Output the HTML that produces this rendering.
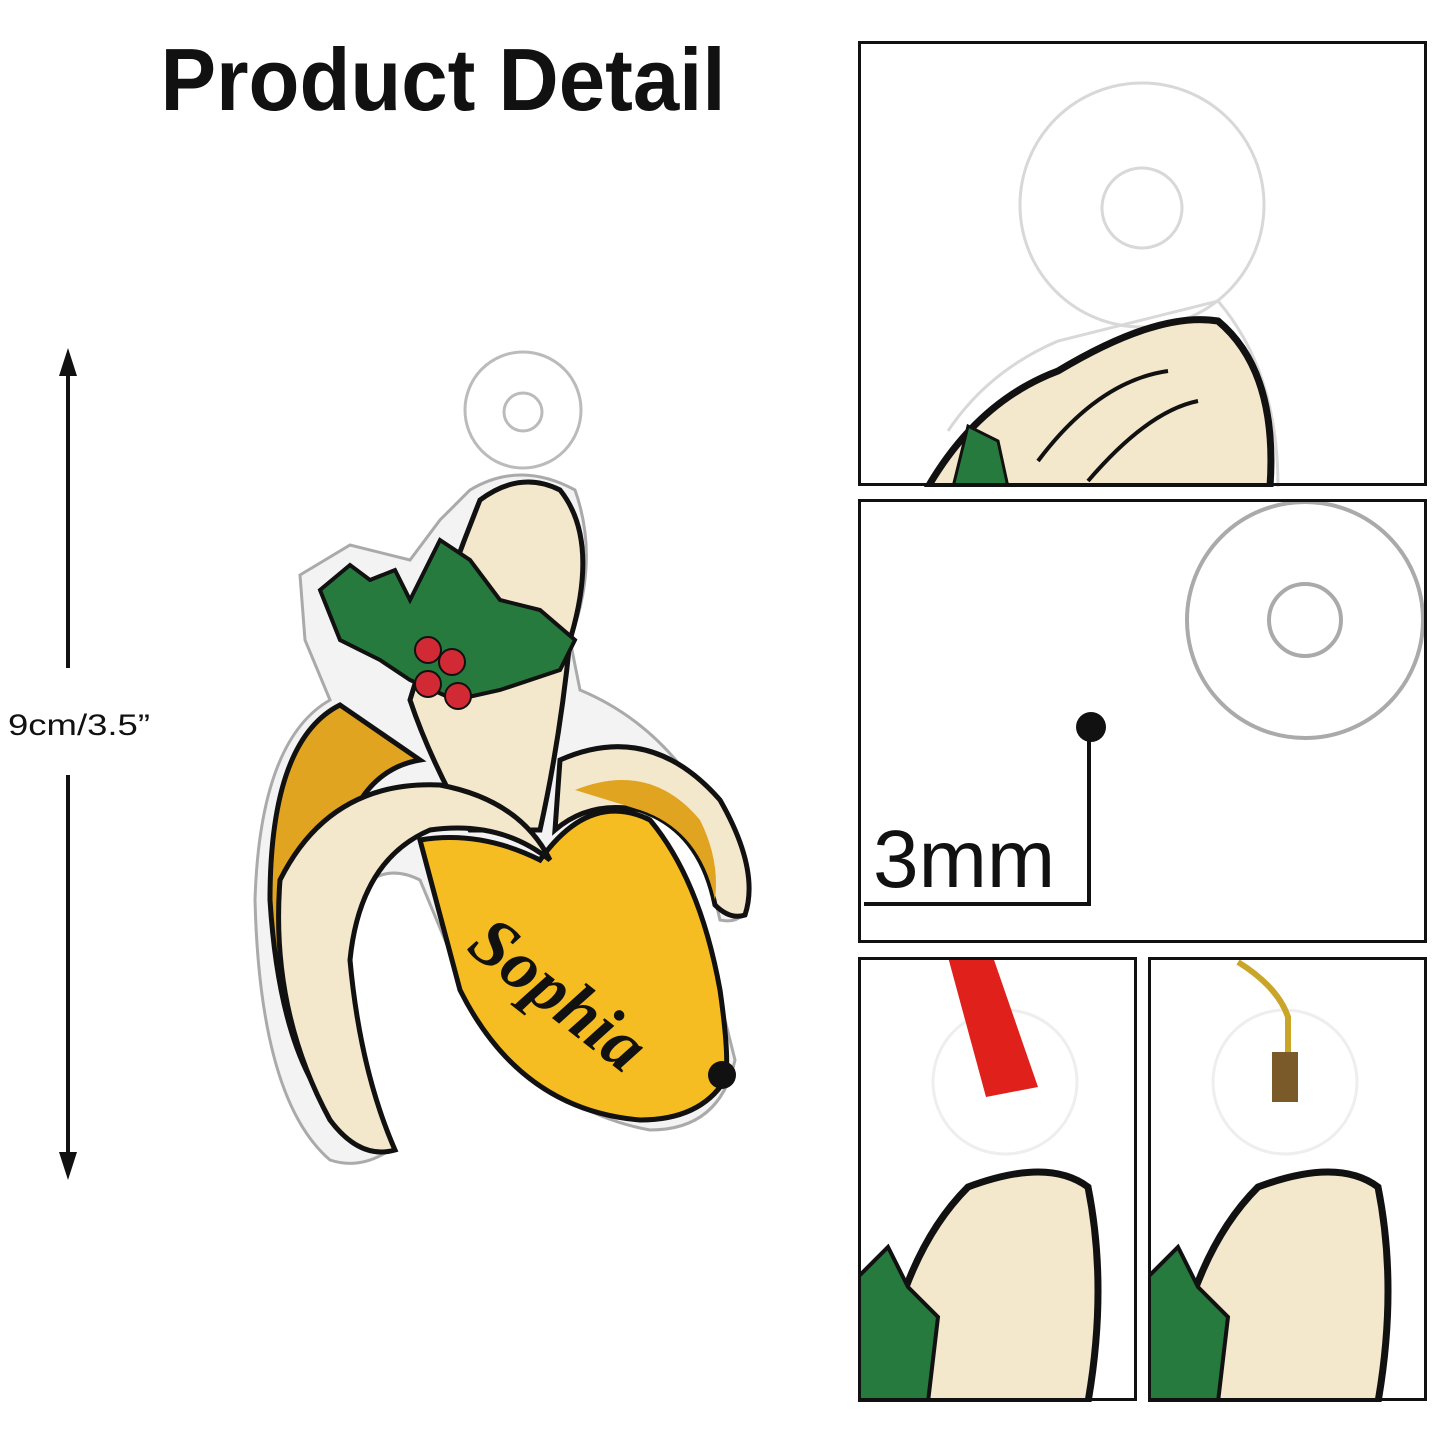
<!DOCTYPE html>
<html><head><meta charset="utf-8">
<style>
html,body{margin:0;padding:0;background:#fff;}
svg{display:block;}
</style></head>
<body>
<svg width="1445" height="1445" viewBox="0 0 1445 1445" xmlns="http://www.w3.org/2000/svg">
<rect width="1445" height="1445" fill="#fff"/>
<text x="443" y="110" text-anchor="middle" font-family="Liberation Sans, sans-serif" font-weight="bold" font-size="88" fill="#111" textLength="565" lengthAdjust="spacingAndGlyphs">Product Detail</text>

<line x1="68" y1="370" x2="68" y2="668" stroke="#111" stroke-width="4"/>
<line x1="68" y1="775" x2="68" y2="1158" stroke="#111" stroke-width="4"/>
<polygon points="68,348 59,376 77,376" fill="#111"/>
<polygon points="68,1180 59,1152 77,1152" fill="#111"/>
<text x="8" y="735" font-family="Liberation Sans, sans-serif" font-size="30" fill="#111" textLength="142" lengthAdjust="spacingAndGlyphs">9cm/3.5”</text>

<g>
  <circle cx="523" cy="410" r="58" fill="#fff" stroke="#bbb" stroke-width="3"/>
  <circle cx="523" cy="412" r="19" fill="#fff" stroke="#bbb" stroke-width="3"/>
  <path d="M470,490 Q520,460 575,490 Q600,560 570,640 L580,690 Q700,740 748,900 Q745,925 720,920 Q700,830 640,800 L700,920 L735,1060 Q720,1130 650,1130 Q540,1110 470,1000 L420,880 Q360,850 330,950 L390,1150 Q360,1170 330,1160 Q260,1100 255,900 Q260,740 330,700 L305,640 L300,575 L350,545 L410,560 L440,520 Z" fill="#f3f3f3" stroke="#aaa" stroke-width="3"/>
  <path d="M340,705 Q270,740 270,900 Q280,1060 340,1120 Q320,950 340,850 Q360,770 420,760 Z" fill="#e0a420" stroke="#111" stroke-width="5"/>
  <path d="M480,500 Q520,470 560,490 Q600,540 570,640 Q560,740 540,830 L470,830 Q430,760 410,700 Q440,600 480,500 Z" fill="#f3e7cc" stroke="#111" stroke-width="5"/>
  <path d="M560,760 Q650,720 720,800 Q760,870 745,915 Q730,920 715,905 Q700,830 640,810 Q590,800 555,830 Z" fill="#f3e7cc" stroke="#111" stroke-width="5"/>
  <path d="M575,790 Q650,760 700,820 Q720,860 715,900 Q700,830 640,810 Z" fill="#e0a420"/>
  <path d="M420,840 Q480,830 540,860 Q590,790 650,820 Q700,880 720,990 Q730,1060 725,1080 Q700,1120 640,1120 Q520,1110 460,990 Z" fill="#f6bd22" stroke="#111" stroke-width="5"/>
  <circle cx="722" cy="1075" r="14" fill="#111"/>
  <path d="M280,880 Q330,780 440,785 Q520,800 550,860 Q500,820 430,830 Q360,860 350,960 Q360,1070 395,1150 Q360,1160 330,1120 Q270,1010 280,880 Z" fill="#f3e7cc" stroke="#111" stroke-width="5"/>
  <path d="M320,590 L350,565 L370,580 L395,570 L410,600 L440,540 L470,560 L500,600 L540,610 L575,640 L560,670 L500,690 L455,700 L410,680 L380,660 L340,640 Z" fill="#267a3e" stroke="#111" stroke-width="4"/>
  <circle cx="428" cy="650" r="13" fill="#d22a35" stroke="#111" stroke-width="2"/>
  <circle cx="452" cy="662" r="13" fill="#d22a35" stroke="#111" stroke-width="2"/>
  <circle cx="428" cy="684" r="13" fill="#d22a35" stroke="#111" stroke-width="2"/>
  <circle cx="458" cy="696" r="13" fill="#d22a35" stroke="#111" stroke-width="2"/>
  <text x="0" y="0" transform="translate(465,950) rotate(38)" font-family="Liberation Serif, serif" font-style="italic" font-weight="bold" font-size="70" fill="#111">Sophia</text>
</g>

<svg x="858" y="41" width="570" height="446">
  <circle cx="284" cy="164" r="122" fill="#fff" stroke="#d8d8d8" stroke-width="3"/>
  <circle cx="284" cy="167" r="40" fill="#fff" stroke="#d8d8d8" stroke-width="3"/>
  <path d="M90,390 Q130,330 200,300 L360,260 Q420,330 420,446" fill="none" stroke="#d8d8d8" stroke-width="3"/>
  <path d="M70,446 Q120,360 200,330 Q300,270 360,280 Q420,330 412,446 Z" fill="#f3e7cc" stroke="#111" stroke-width="7"/>
  <path d="M95,446 L110,385 L140,400 L150,446 Z" fill="#267a3e" stroke="#111" stroke-width="3"/>
  <path d="M180,420 Q240,340 310,330 M230,440 Q290,370 340,360" stroke="#111" stroke-width="4" fill="none"/>
</svg>
<rect x="859.5" y="42.5" width="566" height="442" fill="none" stroke="#111" stroke-width="3"/>

<svg x="858" y="499" width="570" height="445">
  <ellipse cx="447" cy="121" rx="118" ry="118" fill="#fff" stroke="#aaa" stroke-width="4"/>
  <ellipse cx="447" cy="121" rx="36" ry="36" fill="#fff" stroke="#aaa" stroke-width="4"/>
</svg>
<rect x="859.5" y="500.5" width="566" height="441" fill="none" stroke="#111" stroke-width="3"/>
<circle cx="1091" cy="727" r="15" fill="#111"/>
<polyline points="1089,727 1089,904 864,904" fill="none" stroke="#111" stroke-width="4"/>
<text x="873" y="887" font-family="Liberation Sans, sans-serif" font-size="82" fill="#111">3mm</text>

<svg x="858" y="957" width="280" height="445">
  <circle cx="147" cy="125" r="72" fill="#fff" stroke="#eee" stroke-width="3"/>
  <path d="M90,0 L135,0 L180,130 L128,140 Z" fill="#e0201b"/>
  <path d="M20,445 Q40,300 110,230 Q190,200 230,230 Q250,330 230,445 Z" fill="#f3e7cc" stroke="#111" stroke-width="7"/>
  <path d="M0,320 L30,290 L50,330 L80,360 L70,445 L0,445 Z" fill="#267a3e" stroke="#111" stroke-width="4"/>
</svg>
<rect x="859.5" y="958.5" width="276" height="441" fill="none" stroke="#111" stroke-width="3"/>

<svg x="1148" y="957" width="280" height="445">
  <circle cx="137" cy="125" r="72" fill="#fff" stroke="#eee" stroke-width="3"/>
  <path d="M90,5 Q130,30 140,60 L140,120" stroke="#c9a62a" stroke-width="6" fill="none"/>
  <rect x="124" y="95" width="26" height="50" fill="#7b5a2a"/>
  <path d="M20,445 Q40,300 110,230 Q190,200 230,230 Q250,330 230,445 Z" fill="#f3e7cc" stroke="#111" stroke-width="7"/>
  <path d="M0,320 L30,290 L50,330 L80,360 L70,445 L0,445 Z" fill="#267a3e" stroke="#111" stroke-width="4"/>
</svg>
<rect x="1149.5" y="958.5" width="276" height="441" fill="none" stroke="#111" stroke-width="3"/>
</svg>
</body></html>
